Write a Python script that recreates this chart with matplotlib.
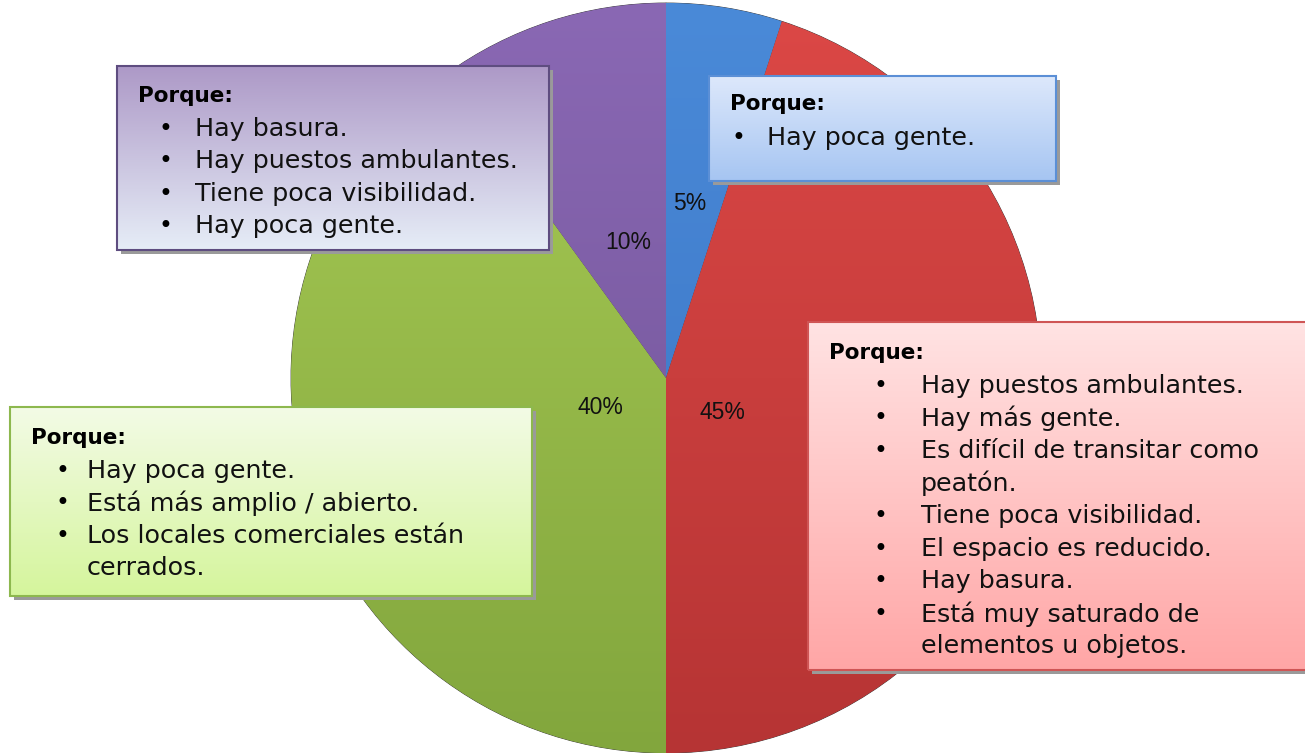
import matplotlib
matplotlib.use("Agg")
import matplotlib.pyplot as plt
import numpy as np
from matplotlib.colors import LinearSegmentedColormap
from matplotlib.patches import Rectangle

# slices, clockwise from the top
shares = [5, 45, 40, 10]
pct_labels = ["5%", "45%", "40%", "10%"]
slice_top = ["#4a8ad8", "#dc4846", "#a8cb55", "#8a68b4"]
slice_bottom = ["#3a72c2", "#b63434", "#82a63d", "#6e5294"]

# reasons shown next to each slice ("\n" = wrapped line)
reasons_blue = ["Hay poca gente."]
reasons_red = ["Hay puestos ambulantes.", "Hay más gente.",
               "Es difícil de transitar como\npeatón.", "Tiene poca visibilidad.",
               "El espacio es reducido.", "Hay basura.",
               "Está muy saturado de\nelementos u objetos."]
reasons_green = ["Hay poca gente.", "Está más amplio / abierto.",
                 "Los locales comerciales están\ncerrados."]
reasons_purple = ["Hay basura.", "Hay puestos ambulantes.",
                  "Tiene poca visibilidad.", "Hay poca gente."]

W, H = 1305, 753
fig = plt.figure(figsize=(W / 100, H / 100), dpi=100)
ax = fig.add_axes([0, 0, 1, 1])

cx, cy, rad = 666, H - 378, 375
wedges, _ = ax.pie(shares, colors=slice_top, startangle=90, counterclock=False,
                   radius=rad, center=(cx, cy),
                   wedgeprops=dict(edgecolor="#3a3a3a", linewidth=0.6))

# vertical shading inside each slice
grad = np.linspace(0, 1, 256).reshape(-1, 1)
for w, ct, cb in zip(wedges, slice_top, slice_bottom):
    cmap = LinearSegmentedColormap.from_list("s", [cb, ct])
    im = ax.imshow(grad, cmap=cmap, extent=(cx - rad, cx + rad, cy - rad, cy + rad),
                   origin="lower", aspect="auto", zorder=1.5)
    im.set_clip_path(w)

# percentage labels: (distance fraction, angle offset in degrees)
lab_pos = [(0.47, 1.2), (0.178, -22.5), (0.193, 6.4), (0.374, -2.3)]
for w, txt, (f, off) in zip(wedges, pct_labels, lab_pos):
    ang = np.deg2rad((w.theta1 + w.theta2) / 2 + off)
    ax.text(cx + f * rad * np.cos(ang), cy + f * rad * np.sin(ang), txt,
            ha="center", va="center", fontsize=16.5, family="Liberation Sans",
            color="#111111", zorder=3)


def note_box(x0, y0, x1, y1, top_col, bot_col, edge, reasons, bullet_x, text_x,
             head_y, step=32.6):
    # pixel box, origin top-left
    yb, yt = H - y1, H - y0
    ax.add_patch(Rectangle((x0 + 4, yb - 4), x1 - x0, yt - yb, facecolor="#9a9a9a",
                           edgecolor="none", zorder=4))
    cmap = LinearSegmentedColormap.from_list("g", [bot_col, top_col])
    ax.imshow(grad, cmap=cmap, extent=(x0, x1, yb, yt), origin="lower",
              aspect="auto", zorder=5)
    ax.add_patch(Rectangle((x0, yb), x1 - x0, yt - yb, facecolor="none",
                           edgecolor=edge, linewidth=1.5, zorder=6))
    ax.text(x0 + 21, H - head_y, "Porque:", fontsize=15.5, fontweight="bold",
            ha="left", va="center", color="black", zorder=7)
    row = 1
    for item in reasons:
        for k, ln in enumerate(item.split("\n")):
            y = H - (head_y + row * step)
            if k == 0:
                ax.text(bullet_x, y, "•", fontsize=17, ha="center", va="center",
                        color="black", zorder=7)
            ax.text(text_x, y, ln, fontsize=18.3, ha="left", va="center",
                    color="#111111", zorder=7)
            row += 1


note_box(117, 66, 549, 250, "#ad99c7", "#e6edf7", "#5e4d80", reasons_purple,
         165, 195, 96)
note_box(709, 76, 1056, 181, "#dde8fb", "#a6c5f2", "#5b8fd6", reasons_blue,
         738, 767, 104, step=34)
note_box(808, 322, 1310, 670, "#ffe3e3", "#ffa6a6", "#cf5555", reasons_red,
         880, 921, 353)
note_box(10, 407, 532, 596, "#f3fbe6", "#d5f59c", "#8db84e", reasons_green,
         62, 87, 438)

ax.set_xlim(0, W)
ax.set_ylim(0, H)
ax.set_aspect("auto")
ax.axis("off")
fig.savefig("out.png", dpi=100)
